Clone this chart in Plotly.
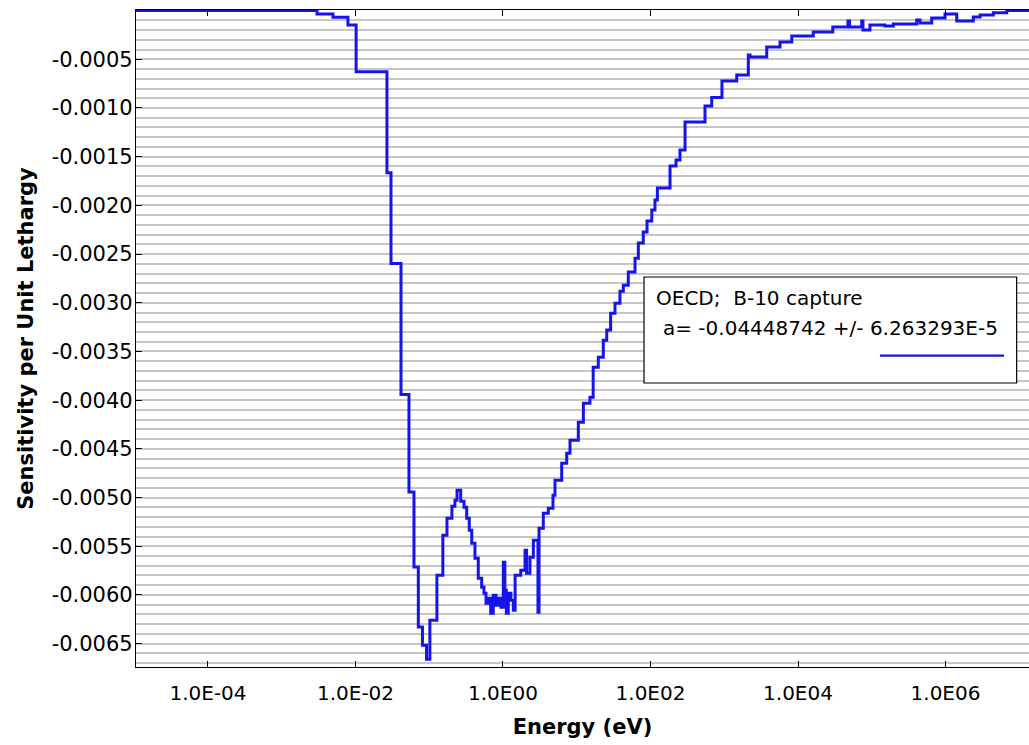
import plotly.graph_objects as go

energy_ev = [1.0e-5, 3.01e-3, 4.95e-3, 7.90e-3, 1.02e-2, 2.67e-2, 3.03e-2, 4.14e-2, 5.31e-2, 6.21e-2,
             7.11e-2, 8.09e-2, 9.18e-2, 0.102, 0.127, 0.153, 0.174, 0.203, 0.223, 0.238,
             0.267, 0.296, 0.322, 0.349, 0.377, 0.417, 0.462, 0.514, 0.552, 0.588,
             0.632, 0.681, 0.738, 0.803, 0.869, 0.940, 1.01, 1.06, 1.11, 1.18,
             1.28, 1.38, 1.46, 1.74, 1.99, 2.09, 2.32, 2.58, 2.98, 3.08,
             3.52, 4.11, 4.76, 5.07, 6.25, 7.31, 8.10, 10.5, 12.3, 15.1,
             16.7, 19.6, 22.9, 25.5, 28.8, 33.0, 38.5, 42.8, 50.0, 61.7,
             68.4, 79.8, 89.7, 104, 115, 124, 184, 222, 251, 294,
             548, 676, 931, 1476, 2118, 2234, 3767, 5702, 8222, 1.61e4,
             2.96e4, 4.76e4, 4.99e4, 7.31e4, 7.60e4, 9.46e4, 1.51e5, 1.96e5, 4.07e5, 4.51e5,
             6.50e5, 9.84e5, 1.42e6, 2.38e6, 2.94e6, 4.45e6, 6.76e6, 2.0e7]

sensitivity = [0.0, -3.5e-5, -6.9e-5, -1.48e-4, -6.28e-4, -1.665e-3, -2.596e-3, -3.942e-3, -4.942e-3, -5.713e-3,
               -6.329e-3, -6.517e-3, -6.661e-3, -6.260e-3, -5.798e-3, -5.387e-3, -5.213e-3, -5.089e-3, -5.028e-3, -4.925e-3,
               -5.038e-3, -5.100e-3, -5.213e-3, -5.336e-3, -5.469e-3, -5.623e-3, -5.829e-3, -5.921e-3, -5.983e-3, -6.086e-3,
               -6.034e-3, -6.188e-3, -6.003e-3, -6.106e-3, -6.034e-3, -6.127e-3, -5.665e-3, -5.952e-3, -6.188e-3, -5.983e-3,
               -6.055e-3, -6.158e-3, -5.798e-3, -5.747e-3, -5.541e-3, -5.778e-3, -5.613e-3, -5.439e-3, -6.178e-3, -5.315e-3,
               -5.161e-3, -5.110e-3, -4.976e-3, -4.822e-3, -4.647e-3, -4.545e-3, -4.411e-3, -4.226e-3, -4.031e-3, -3.969e-3,
               -3.661e-3, -3.559e-3, -3.384e-3, -3.281e-3, -3.107e-3, -3.004e-3, -2.881e-3, -2.819e-3, -2.685e-3, -2.542e-3,
               -2.387e-3, -2.274e-3, -2.161e-3, -2.048e-3, -1.946e-3, -1.822e-3, -1.596e-3, -1.535e-3, -1.432e-3, -1.144e-3,
               -9.80e-4, -8.93e-4, -7.23e-4, -6.62e-4, -4.56e-4, -4.77e-4, -3.74e-4, -3.23e-4, -2.61e-4, -2.20e-4,
               -1.68e-4, -1.07e-4, -1.68e-4, -1.07e-4, -1.99e-4, -1.48e-4, -1.58e-4, -1.38e-4, -9.7e-5, -1.27e-4,
               -7.6e-5, -3.5e-5, -1.07e-4, -6.6e-5, -4.5e-5, -2.2e-5, 0.0, 0.0]

x_tick_values = [1e-4, 1e-2, 1e0, 1e2, 1e4, 1e6]
x_tick_labels = ["1.0E-04", "1.0E-02", "1.0E00", "1.0E02", "1.0E04", "1.0E06"]
y_tick_values = [-0.0005, -0.0010, -0.0015, -0.0020, -0.0025, -0.0030, -0.0035,
                 -0.0040, -0.0045, -0.0050, -0.0055, -0.0060, -0.0065]
y_tick_labels = ["-0.0005", "-0.0010", "-0.0015", "-0.0020", "-0.0025", "-0.0030", "-0.0035",
                 "-0.0040", "-0.0045", "-0.0050", "-0.0055", "-0.0060", "-0.0065"]

legend_line1 = "OECD;  B-10 capture"
legend_line2 = "a= -0.04448742 +/- 6.263293E-5"

LINE_COLOR = "rgb(20,20,235)"
FONT = "DejaVu Sans"

fig = go.Figure()
fig.add_trace(go.Scatter(
    x=energy_ev, y=sensitivity, mode="lines",
    line=dict(color=LINE_COLOR, width=3, shape="hv"),
    showlegend=False, hoverinfo="x+y",
))

fig.update_layout(
    width=1029, height=745,
    margin=dict(l=136, r=0, t=10, b=78),
    plot_bgcolor="white", paper_bgcolor="white",
    font=dict(family=FONT, color="black", size=20),
    showlegend=False,
)

fig.update_xaxes(
    type="log", range=[-4.976, 7.132],
    tickmode="array", tickvals=x_tick_values, ticktext=x_tick_labels,
    ticks="inside", ticklen=6, tickwidth=1.2, tickcolor="black",
    showline=True, linecolor="black", linewidth=1.2, mirror="ticks",
    showgrid=False, zeroline=False,
    tickfont=dict(family=FONT, size=20),
    ticklabelstandoff=8,
    title=dict(text="Energy (eV)", font=dict(family=FONT, size=21, weight="bold"), standoff=15),
    automargin=False,
)

fig.update_yaxes(
    range=[-0.00674, 0.000006],
    tickmode="array", tickvals=y_tick_values, ticktext=y_tick_labels,
    ticks="inside", ticklen=6, tickwidth=1.2, tickcolor="black",
    showline=True, linecolor="black", linewidth=1.2, mirror=False,
    showgrid=True, gridcolor="#c6c6c6", gridwidth=1.6,
    minor=dict(tick0=0, dtick=0.0001, showgrid=True, gridcolor="#c6c6c6", gridwidth=1.6, ticks=""),
    zeroline=False,
    tickfont=dict(family=FONT, size=21),
    ticklabelstandoff=-2,
    title=dict(text="Sensitivity per Unit Lethargy", font=dict(family=FONT, size=21, weight="bold"), standoff=12),
    automargin=False,
)

# Legend box drawn in paper coordinates
fig.add_shape(type="rect", xref="paper", yref="paper", x0=0.5689, x1=0.9862, y0=0.4323, y1=0.5936,
              line=dict(color="black", width=1.2), fillcolor="white", layer="above")
fig.add_annotation(xref="paper", yref="paper", x=0.5800, y=0.5616, text=legend_line1,
                   showarrow=False, xanchor="left", yanchor="middle",
                   font=dict(family=FONT, size=20, color="black"))
fig.add_annotation(xref="paper", yref="paper", x=0.5880, y=0.5160, text=legend_line2,
                   showarrow=False, xanchor="left", yanchor="middle",
                   font=dict(family=FONT, size=20, color="black"))
fig.add_shape(type="line", xref="paper", yref="paper", x0=0.8331, x1=0.9720, y0=0.4738, y1=0.4738,
              line=dict(color=LINE_COLOR, width=2.2), layer="above")

fig.write_html("out.html",
               config={"displayModeBar": False},
               post_script="document.body.style.margin='0';document.body.style.overflow='hidden';")
